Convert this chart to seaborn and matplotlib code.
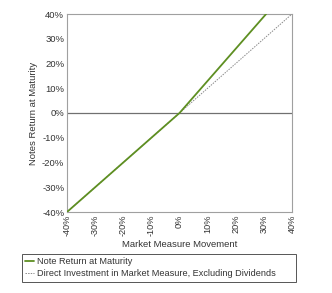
import matplotlib
matplotlib.use("Agg")
import matplotlib.pyplot as plt
import seaborn as sns
import pandas as pd

sns.set_theme(style="white")
plt.rcParams['font.family'] = ['Liberation Sans', 'DejaVu Sans']

note_x = [-40, 0, 30.8]
note_y = [-40, 0, 40]
direct_x = [-40, 0, 40]
direct_y = [-40, 0, 40]
ticks = [-40, -30, -20, -10, 0, 10, 20, 30, 40]
tick_labels = [f"{t}%" for t in ticks]

fig = plt.figure(figsize=(3.32, 2.93), dpi=100)
ax = fig.add_axes([67/332, 1-212/293, 225/332, 198/293])

df_note = pd.DataFrame({"x": note_x, "y": note_y})
df_dir = pd.DataFrame({"x": direct_x, "y": direct_y})

ax.axhline(0, color="#707070", lw=0.9, zorder=1)
sns.lineplot(data=df_dir, x="x", y="y", ax=ax, color="#8a8a8a", lw=0.7,
             linestyle=(0, (1.5, 1.2)), label="Direct Investment in Market Measure, Excluding Dividends", zorder=2)
sns.lineplot(data=df_note, x="x", y="y", ax=ax, color="#5e8f22", lw=1.3,
             label="Note Return at Maturity", zorder=3)

ax.set_xlim(-40, 40)
ax.set_ylim(-40, 40)
ax.set_xticks(ticks)
ax.set_xticklabels(tick_labels, rotation=90, fontsize=6.6, color="#333333")
ax.set_yticks(ticks)
ax.set_yticklabels(tick_labels, fontsize=6.8, color="#333333")
ax.tick_params(axis="both", length=0, pad=2)
ax.set_xlabel("Market Measure Movement", fontsize=6.8, color="#333333", labelpad=3)
ax.set_ylabel("Notes Return at Maturity", fontsize=6.8, color="#333333", labelpad=3)
for s in ax.spines.values():
    s.set_color("#a0a0a0")
    s.set_linewidth(0.8)

handles, labels = ax.get_legend_handles_labels()
ax.legend(handles[::-1], labels[::-1], loc="upper left",
          bbox_to_anchor=(22/332, 1-284/293, 274/332, 30/293), mode="expand",
          bbox_transform=fig.transFigure, fontsize=6.6, frameon=True, fancybox=False,
          edgecolor="#555555", handlelength=1.0, handletextpad=0.3, borderpad=0.35,
          labelspacing=0.35, borderaxespad=0, framealpha=1)
leg = ax.get_legend()
leg.get_frame().set_linewidth(0.7)
for t in leg.get_texts():
    t.set_color("#333333")

fig.savefig("out.png", dpi=100)
